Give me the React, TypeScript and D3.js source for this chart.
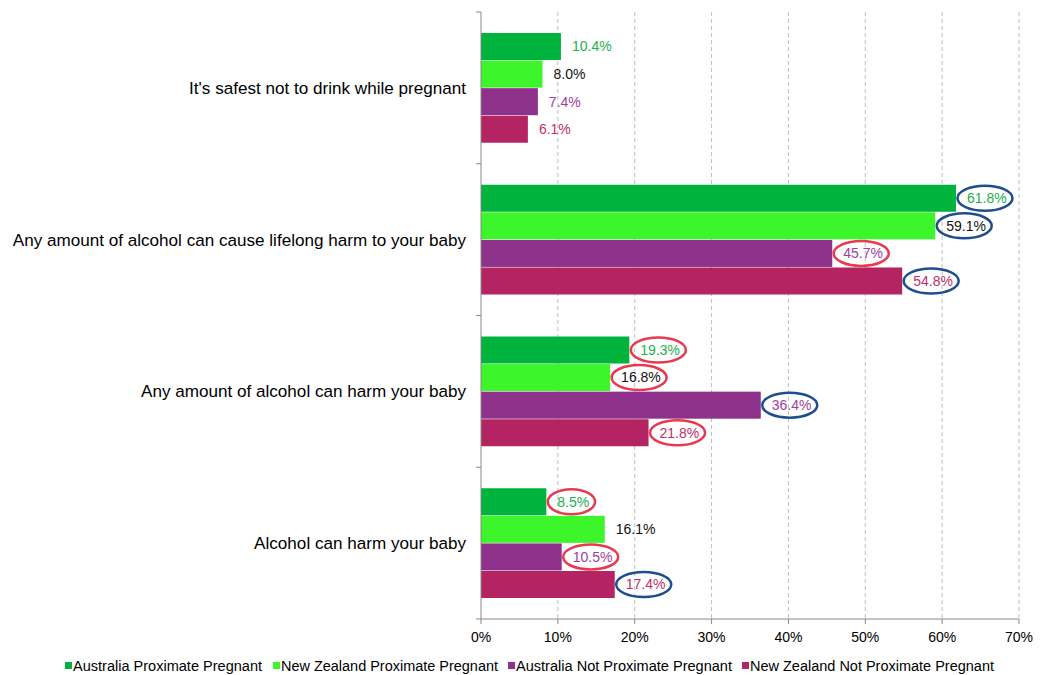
import React from "react";
import * as d3 from "d3";

const categories = [
  "It's safest not to drink while pregnant",
  "Any amount of alcohol can cause lifelong harm to your baby",
  "Any amount of alcohol can harm your baby",
  "Alcohol can harm your baby",
];
const seriesNames = [
  "Australia Proximate Pregnant",
  "New Zealand Proximate Pregnant",
  "Australia Not Proximate Pregnant",
  "New Zealand Not Proximate Pregnant",
];
const ausProx = [10.4, 61.8, 19.3, 8.5];
const nzProx = [8.0, 59.1, 16.8, 16.1];
const ausNotProx = [7.4, 45.7, 36.4, 10.5];
const nzNotProx = [6.1, 54.8, 21.8, 17.4];
// ellipse highlight per value: "" none, "b" blue, "r" red
const ausProxMark = ["", "b", "r", "r"];
const nzProxMark = ["", "b", "r", ""];
const ausNotProxMark = ["", "r", "b", "r"];
const nzNotProxMark = ["", "b", "r", "b"];
const xTicks = [0, 10, 20, 30, 40, 50, 60, 70];

const barColors = ["#00B33C", "#3CF52A", "#8E318A", "#B52462"];
const labelColors = ["#22B14C", "#111111", "#A040A0", "#C0306A"];
const markColors: Record<string, string> = { b: "#1F4E8C", r: "#E8394F" };

export default function App() {
  const W = 1041, H = 675;
  const left = 481, right = 1019, top = 12, bottom = 619;
  const series = [ausProx, nzProx, ausNotProx, nzNotProx];
  const marks = [ausProxMark, nzProxMark, ausNotProxMark, nzNotProxMark];

  const x = d3.scaleLinear().domain([0, 70]).range([left, right]);
  const y = d3.scaleBand<string>().domain(categories).range([top, bottom]).paddingInner(0).paddingOuter(0);
  const band = y.bandwidth();
  const groupPad = 21;
  const inner = d3
    .scaleBand<number>()
    .domain([0, 1, 2, 3])
    .range([groupPad, band - groupPad])
    .paddingInner(0.02);

  const legendX = [65, 273, 508, 742];
  const legendW = [189, 217, 216, 244];

  return (
    <svg
      width={W}
      height={H}
      style={{ position: "absolute", left: 0, top: 0, display: "block", background: "#fff" }}
      fontFamily="Arial, 'Liberation Sans', sans-serif"
    >
      {/* gridlines */}
      {xTicks.slice(1).map((t) => (
        <line
          key={"g" + t}
          x1={x(t)}
          x2={x(t)}
          y1={top}
          y2={bottom}
          stroke="#BDBDBD"
          strokeDasharray="4,3"
          strokeWidth={1}
        />
      ))}
      {/* bars */}
      {categories.map((c, ci) =>
        series.map((s, si) => {
          const by = (y(c) as number) + (inner(si) as number);
          const bh = inner.bandwidth();
          const v = s[ci];
          const xe = x(v);
          const m = marks[si][ci];
          const lx = xe + 11;
          const ly = by + bh / 2;
          const tw = (v.toFixed(1).length + 1) * 7.8;
          return (
            <g key={c + si}>
              <rect x={left} y={by} width={xe - left} height={bh} fill={barColors[si]} />
              {m && (
                <ellipse
                  cx={lx + tw / 2 - 1.5}
                  cy={ly}
                  rx={tw / 2 + 8}
                  ry={12.5}
                  fill="none"
                  stroke={markColors[m]}
                  strokeWidth={2.5}
                />
              )}
              <text x={lx} y={ly} dy="0.35em" fontSize={14} fill={labelColors[si]}>
                {v.toFixed(1) + "%"}
              </text>
            </g>
          );
        })
      )}
      {/* y axis */}
      <line x1={left} x2={left} y1={top} y2={bottom} stroke="#888" strokeWidth={1} />
      {categories.map((c, ci) => (
        <line
          key={"yt" + ci}
          x1={left - 5}
          x2={left}
          y1={(y(c) as number) + band}
          y2={(y(c) as number) + band}
          stroke="#888"
        />
      ))}
      <line x1={left - 5} x2={left} y1={top} y2={top} stroke="#888" />
      {categories.map((c) => (
        <text
          key={"cl" + c}
          x={466}
          y={(y(c) as number) + band / 2}
          dy="0.35em"
          textAnchor="end"
          fontSize={17.1}
          fill="#000"
        >
          {c}
        </text>
      ))}
      {/* x axis */}
      <line x1={left} x2={right} y1={bottom} y2={bottom} stroke="#888" strokeWidth={1} />
      {xTicks.map((t) => (
        <g key={"xt" + t}>
          <line x1={x(t)} x2={x(t)} y1={bottom} y2={bottom + 5} stroke="#888" />
          <text x={x(t)} y={bottom + 18} dy="0.35em" textAnchor="middle" fontSize={14} fill="#000">
            {t + "%"}
          </text>
        </g>
      ))}
      {/* legend */}
      {seriesNames.map((n, i) => (
        <g key={"lg" + i}>
          <rect x={legendX[i]} y={662} width={7} height={7} fill={barColors[i]} />
          <text
            x={legendX[i] + 8}
            y={666}
            dy="0.35em"
            fontSize={14}
            fill="#000"
            textLength={legendW[i]}
            lengthAdjust="spacingAndGlyphs"
          >
            {n}
          </text>
        </g>
      ))}
    </svg>
  );
}
